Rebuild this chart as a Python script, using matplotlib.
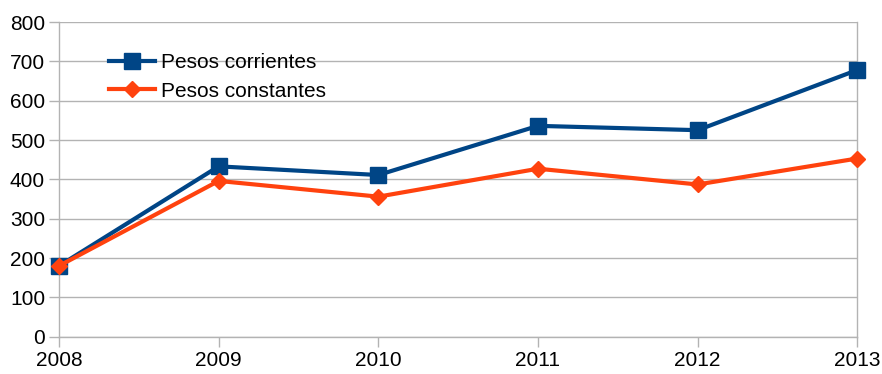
import matplotlib
matplotlib.use("Agg")
import matplotlib.pyplot as plt

years = [2008, 2009, 2010, 2011, 2012, 2013]
corrientes = [180, 433, 411, 536, 525, 678]
constantes = [180, 396, 356, 427, 387, 453]
labels = ["Pesos corrientes", "Pesos constantes"]
yticks = [0, 100, 200, 300, 400, 500, 600, 700, 800]

plt.rcParams['font.family'] = ['Liberation Sans', 'DejaVu Sans']

fig = plt.figure(figsize=(8.82, 3.74), dpi=100)
ax = fig.add_axes([59/882, 1 - 336.7/374, (857.3-59)/882, (336.7-22)/374])

gc = '#b3b3b3'
ax.plot(years, corrientes, color='#004586', lw=3, marker='s', ms=11, label=labels[0], zorder=3, clip_on=False)
ax.plot(years, constantes, color='#ff420e', lw=3, marker='D', ms=8.5, label=labels[1], zorder=4, clip_on=False)

ax.set_xlim(2008, 2013)
ax.set_ylim(0, 800)
ax.set_yticks(yticks)
ax.set_xticks(years)
ax.yaxis.grid(True, color=gc, lw=1)
ax.set_axisbelow(True)
ax.spines['top'].set_visible(False)
for s in ['left', 'bottom', 'right']:
    ax.spines[s].set_color(gc)
    ax.spines[s].set_linewidth(1)
ax.tick_params(axis='both', colors=gc, length=7, width=1, labelcolor='black', labelsize=15)
ax.tick_params(axis='y', pad=3)
ax.tick_params(axis='x', pad=3)

leg = ax.legend(loc='upper left', bbox_to_anchor=(0.039, 0.96), frameon=False,
                fontsize=15, handlelength=2.2, handletextpad=0.3, labelspacing=0.45)

fig.savefig('out.png', dpi=100)
